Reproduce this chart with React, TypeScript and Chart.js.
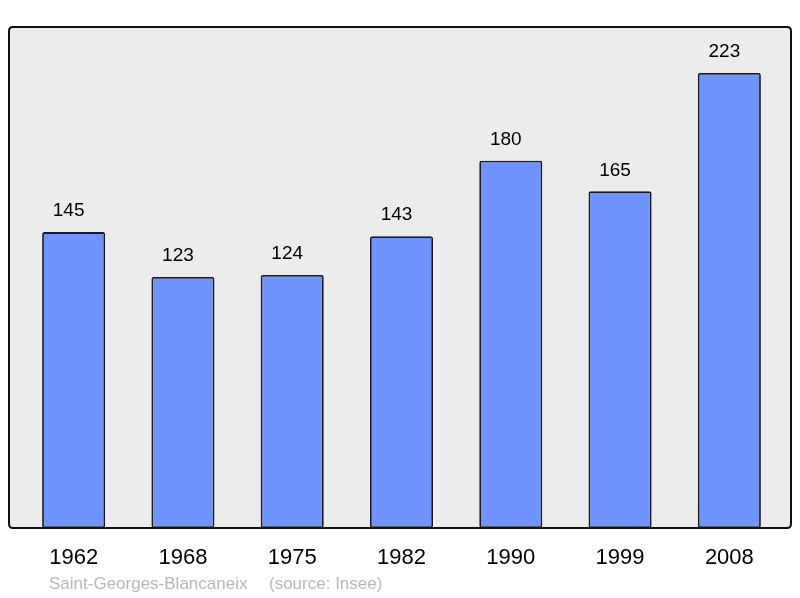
import React, { useEffect, useRef } from "react";
import { Chart, registerables } from "chart.js";

Chart.register(...registerables);

const years = ["1962", "1968", "1975", "1982", "1990", "1999", "2008"];
const population = [145, 123, 124, 143, 180, 165, 223];
const placeLabel = "Saint-Georges-Blancaneix";
const sourceLabel = "(source: Insee)";

const FONT = "'Liberation Sans', Arial, sans-serif";

function roundRect(ctx: CanvasRenderingContext2D, x: number, y: number, w: number, h: number, r: number) {
  ctx.beginPath();
  ctx.moveTo(x + r, y);
  ctx.lineTo(x + w - r, y);
  ctx.quadraticCurveTo(x + w, y, x + w, y + r);
  ctx.lineTo(x + w, y + h - r);
  ctx.quadraticCurveTo(x + w, y + h, x + w - r, y + h);
  ctx.lineTo(x + r, y + h);
  ctx.quadraticCurveTo(x, y + h, x, y + h - r);
  ctx.lineTo(x, y + r);
  ctx.quadraticCurveTo(x, y, x + r, y);
  ctx.closePath();
}

const framePlugin = {
  id: "frame",
  beforeDatasetsDraw(chart: any) {
    const { ctx, chartArea } = chart;
    ctx.save();
    roundRect(ctx, chartArea.left - 10, chartArea.top, chartArea.right - chartArea.left + 17, chartArea.bottom - chartArea.top, 4);
    ctx.fillStyle = "#ececec";
    ctx.fill();
    ctx.restore();
  },
  afterDatasetsDraw(chart: any) {
    const { ctx, chartArea } = chart;
    ctx.save();
    // value labels
    const meta = chart.getDatasetMeta(0);
    ctx.fillStyle = "#000";
    ctx.font = `19px ${FONT}`;
    ctx.textAlign = "center";
    ctx.textBaseline = "middle";
    meta.data.forEach((bar: any, i: number) => {
      ctx.fillText(String(population[i]), bar.x - 5, bar.y - 21);
    });
    // frame border
    roundRect(ctx, chartArea.left - 10, chartArea.top, chartArea.right - chartArea.left + 17, chartArea.bottom - chartArea.top, 4);
    ctx.lineWidth = 2;
    ctx.strokeStyle = "#111";
    ctx.stroke();
    // category labels
    const xScale = chart.scales.x;
    ctx.font = `22px ${FONT}`;
    ctx.fillStyle = "#000";
    years.forEach((y, i) => {
      ctx.fillText(y, xScale.getPixelForValue(i), chartArea.bottom + 30);
    });
    // source
    ctx.font = `17px ${FONT}`;
    ctx.fillStyle = "#b8b8b8";
    ctx.textAlign = "left";
    ctx.fillText(placeLabel, 49, chartArea.bottom + 56);
    ctx.fillText(sourceLabel, 269, chartArea.bottom + 56);
    ctx.restore();
  },
};

export default function App() {
  const ref = useRef<HTMLCanvasElement>(null);
  useEffect(() => {
    document.body.style.margin = "0";
    const chart = new Chart(ref.current!, {
      type: "bar",
      data: {
        labels: years,
        datasets: [
          {
            data: population,
            backgroundColor: "#7094ff",
            borderColor: "#1a1a1a",
            borderWidth: 1.8,
            borderRadius: 2,
            borderSkipped: false,
            barPercentage: 0.577,
            categoryPercentage: 1,
          },
        ],
      },
      options: {
        animation: false,
        responsive: false,
        layout: { padding: { left: 19, right: 16, top: 27, bottom: 70 } },
        scales: {
          x: { display: false },
          y: { display: false, min: 0, max: 245.5 },
        },
        plugins: { legend: { display: false }, tooltip: { enabled: false } },
      },
      plugins: [framePlugin],
    });
    return () => chart.destroy();
  }, []);
  return (
    <div style={{ width: 800, height: 598 }}>
      <canvas ref={ref} width={800} height={598} />
    </div>
  );
}
